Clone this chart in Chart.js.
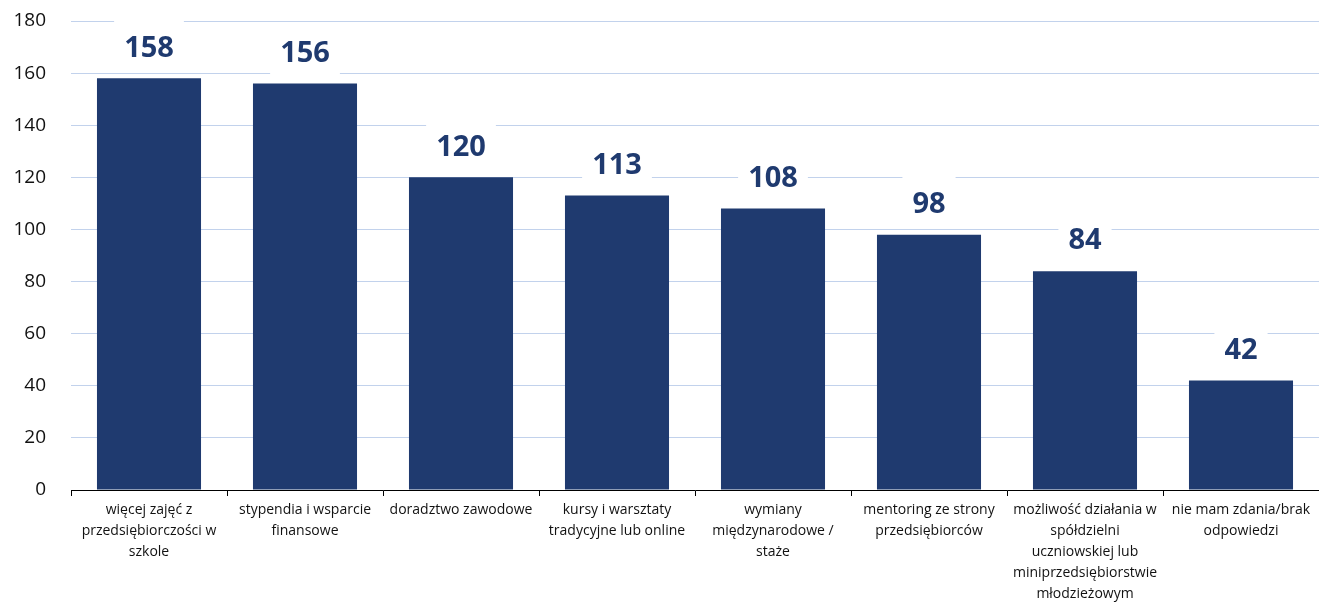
<!DOCTYPE html>
<html lang="pl">
<head>
<meta charset="utf-8">
<title>Formy wsparcia</title>
<script src="https://cdn.jsdelivr.net/npm/chart.js@4/dist/chart.umd.min.js"></script>
<style>
  html, body { margin: 0; padding: 0; background: #ffffff; }
  #wrap { position: relative; width: 1319px; height: 605px; }
</style>
</head>
<body>
<div id="wrap"><canvas id="chart"></canvas></div>
<script>
// Category labels, already split into lines
const categories = [
  ['więcej zajęć z', 'przedsiębiorczości w', 'szkole'],
  ['stypendia i wsparcie', 'finansowe'],
  ['doradztwo zawodowe'],
  ['kursy i warsztaty', 'tradycyjne lub online'],
  ['wymiany', 'międzynarodowe /', 'staże'],
  ['mentoring ze strony', 'przedsiębiorców'],
  ['możliwość działania w', 'spółdzielni', 'uczniowskiej lub', 'miniprzedsiębiorstwie', 'młodzieżowym'],
  ['nie mam zdania/brak', 'odpowiedzi']
];
const counts = [158, 156, 120, 113, 108, 98, 84, 42];
const yTicks = [0, 20, 40, 60, 80, 100, 120, 140, 160, 180];

const NAVY = '#1f3a6f';

// Bold value labels on a white plate above each bar
const valueLabels = {
  id: 'valueLabels',
  afterDatasetsDraw(chart) {
    const ctx = chart.ctx;
    const meta = chart.getDatasetMeta(0);
    ctx.save();
    ctx.font = 'bold 29px "Open Sans", sans-serif';
    ctx.textAlign = 'center';
    ctx.textBaseline = 'middle';
    meta.data.forEach((bar, i) => {
      const txt = String(chart.data.datasets[0].data[i]);
      const w = ctx.measureText(txt).width;
      const cy = bar.y - 31;
      ctx.fillStyle = '#ffffff';
      ctx.fillRect(bar.x - w / 2 - 10, cy - 28, w + 20, 50);
      ctx.fillStyle = NAVY;
      ctx.fillText(txt, bar.x, cy + 1);
    });
    ctx.restore();
  }
};

new Chart(document.getElementById('chart'), {
  type: 'bar',
  data: {
    labels: categories,
    datasets: [{
      data: counts,
      backgroundColor: NAVY,
      borderWidth: 0,
      barPercentage: 0.667,
      categoryPercentage: 1.0
    }]
  },
  options: {
    responsive: true,
    maintainAspectRatio: false,
    animation: false,
    layout: { padding: { top: 21, right: 0, bottom: 0, left: 0 } },
    plugins: {
      legend: { display: false },
      tooltip: { enabled: false }
    },
    scales: {
      x: {
        offset: true,
        grid: {
          offset: true,
          drawOnChartArea: false,
          drawTicks: true,
          tickLength: 6,
          color: '#000000',
          lineWidth: 1
        },
        border: { display: true, color: '#000000', width: 1 },
        ticks: {
          color: '#111111',
          font: { family: '"Open Sans", sans-serif', size: 14, lineHeight: 1.5 },
          padding: 4,
          maxRotation: 0,
          minRotation: 0,
          autoSkip: false
        },
        afterFit(scale) { scale.height = 115; }
      },
      y: {
        min: 0,
        max: 180,
        afterBuildTicks(scale) { scale.ticks = yTicks.map(v => ({ value: v })); },
        grid: {
          color: '#c2d2ec',
          lineWidth: 1,
          drawTicks: false
        },
        border: { display: false },
        ticks: {
          color: '#111111',
          font: { family: '"Open Sans", sans-serif', size: 19 },
          padding: 25
        },
        afterFit(scale) {
          scale.width = 71;
          scale.paddingTop = 12;
          scale.paddingBottom = 12;
        }
      }
    }
  },
  plugins: [valueLabels]
});
</script>
</body>
</html>
